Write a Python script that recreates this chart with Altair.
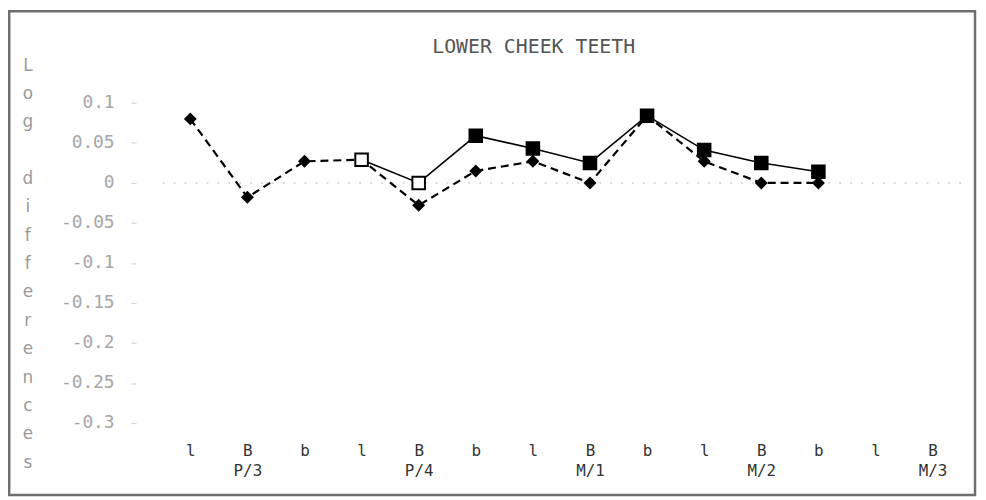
import altair as alt
import pandas as pd

# ---- data ----
title_text = "LOWER CHEEK TEETH"
teeth = ["P/3", "P/4", "M/1", "M/2", "M/3"]
positions = ["l", "B", "b"]
# M/3 has only l and B on the axis
x_keys = [f"{t} {p}" for t in teeth for p in positions][:14]

diamond_keys = x_keys[:12]
diamond_vals = [0.080, -0.018, 0.027, 0.029, -0.028, 0.015, 0.027, 0.0, 0.084, 0.027, 0.0, 0.0]

square_keys = x_keys[3:12]
square_vals = [0.029, 0.0, 0.059, 0.043, 0.025, 0.084, 0.041, 0.025, 0.014]
square_open = [True, True, False, False, False, False, False, False, False]

y_ticks = [0.1, 0.05, 0, -0.05, -0.1, -0.15, -0.2, -0.25, -0.3]
y_title_words = ["Log", "differences"]

# ---- layout constants ----
W, H = 806, 347
PAD = {"left": 155, "top": 77.5, "right": 17, "bottom": 67.5}
LINE_H = 28.6

dia = pd.DataFrame({"key": diamond_keys, "val": diamond_vals})
sq = pd.DataFrame({"key": square_keys, "val": square_vals, "open": square_open})
zero = pd.DataFrame({"val": [0.0]})
title_df = pd.DataFrame({"t": [title_text]})

label_expr = (
    "split(datum.value, ' ')[1] == 'B' ? "
    "[split(datum.value, ' ')[1], split(datum.value, ' ')[0]] : split(datum.value, ' ')[1]"
)

x_enc = alt.X(
    "key:N",
    sort=x_keys,
    scale=alt.Scale(type="point", domain=x_keys, padding=0.5),
    axis=alt.Axis(
        title=None,
        labelExpr=label_expr,
        labelAngle=0,
        labelFont="DejaVu Sans Mono",
        labelFontSize=16,
        labelColor="#333333",
        labelLineHeight=20,
        labelPadding=12,
        labelBaseline="top",
        ticks=False,
        domain=False,
        grid=False,
    ),
)
y_scale = alt.Scale(domain=[-0.31, 0.12], nice=False, zero=False)
y_enc = alt.Y(
    "val:Q",
    scale=y_scale,
    axis=alt.Axis(
        values=y_ticks,
        labelExpr="toString(datum.value)",
        labelFont="DejaVu Sans Mono",
        labelFontSize=18,
        labelColor="#a6a6a6",
        labelPadding=17,
        tickColor="#cccccc",
        tickSize=5,
        offset=26,
        domain=False,
        grid=False,
        title=None,
    ),
)

frame = alt.Chart(zero).mark_rect(
    fill=None, stroke="#6e6e6e", strokeWidth=2.5
).encode(
    x=alt.value(-PAD["left"] + 1.2),
    x2=alt.value(W + PAD["right"] - 3),
    y=alt.value(-PAD["top"] + 1.2),
    y2=alt.value(H + PAD["bottom"] - 3),
)

title_mark = alt.Chart(title_df).mark_text(
    font="DejaVu Sans Mono",
    fontSize=20,
    color="#555555",
    align="center",
    baseline="alphabetic",
).encode(text="t:N", x=alt.value(538 - 163), y=alt.value(51 - 85.5))

# vertical, letter-stacked y axis title ("Log" then a gap then "differences")
ytitle_marks = []
start_line = 0
for word in y_title_words:
    ytitle_marks.append(
        alt.Chart(zero).mark_text(
            text=list(word),
            font="DejaVu Sans",
            fontSize=17,
            color="#9a9a9a",
            align="center",
            baseline="top",
            lineHeight=LINE_H,
        ).encode(x=alt.value(28 - 163), y=alt.value(-29.5 + start_line * LINE_H))
    )
    start_line += len(word) + 1

zero_rule = alt.Chart(zero).mark_rule(
    color="#d0d0d0", strokeDash=[2, 9], strokeWidth=1.5
).encode(y=alt.Y("val:Q", scale=y_scale))

dia_line = alt.Chart(dia).mark_line(
    color="black", strokeWidth=2.2, strokeDash=[8, 5]
).encode(x=x_enc, y=y_enc)
dia_pts = alt.Chart(dia).mark_point(
    shape="diamond", size=170, filled=True, color="black", opacity=1
).encode(x=x_enc, y=y_enc)

sq_line = alt.Chart(sq).mark_line(color="black", strokeWidth=1.6).encode(x=x_enc, y=y_enc)
sq_pts = alt.Chart(sq).mark_point(
    shape="square", size=160, stroke="black", strokeWidth=2, opacity=1
).encode(
    x=x_enc,
    y=y_enc,
    fill=alt.condition("datum.open", alt.value("white"), alt.value("black")),
)

chart = alt.layer(
    frame, title_mark, *ytitle_marks, zero_rule, dia_line, sq_line, dia_pts, sq_pts
).properties(
    width=W,
    height=H,
    padding=PAD,
    background="white",
    autosize=alt.AutoSizeParams(type="none"),
).configure_view(strokeWidth=0)

chart.save("out.html", embed_options={"renderer": "svg", "actions": False})
